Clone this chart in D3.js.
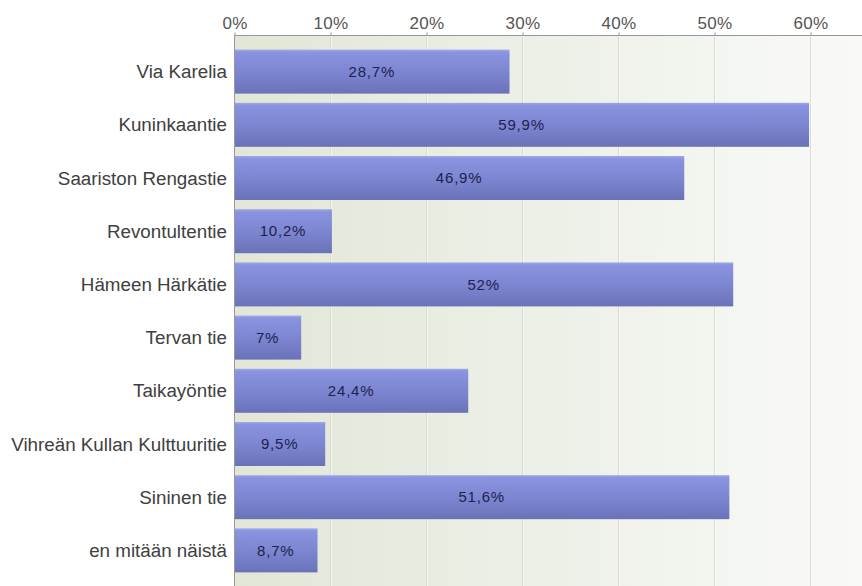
<!DOCTYPE html>
<html><head><meta charset="utf-8">
<script src="https://cdn.jsdelivr.net/npm/d3@7"></script>
<style>body{margin:0;background:#fff;}svg{display:block;}</style>
</head><body>
<svg id="chart" width="862" height="586"></svg>
<script>
const categories = ["Via Karelia","Kuninkaantie","Saariston Rengastie","Revontultentie","Hämeen Härkätie","Tervan tie","Taikayöntie","Vihreän Kullan Kulttuuritie","Sininen tie","en mitään näistä"];
const values = [28.7, 59.9, 46.9, 10.2, 52, 7, 24.4, 9.5, 51.6, 8.7];
const valueLabels = ["28,7%","59,9%","46,9%","10,2%","52%","7%","24,4%","9,5%","51,6%","8,7%"];
const tickValues = [0,10,20,30,40,50,60];

(function(){
const svg = d3.select("#chart");
const pLeft = 234, pRight = 862, pTop = 35, pBottom = 586;
const font = "Liberation Sans, Arial, sans-serif";
const x = d3.scaleLinear().domain([0,60]).range([pLeft, pLeft+576]);
const y = d3.scaleBand().domain(categories).range([36, 586]).paddingInner(0.173).paddingOuter(0.256);

const defs = svg.append("defs");
const bg = defs.append("linearGradient").attr("id","bg").attr("x1","0").attr("x2","1").attr("y1","0").attr("y2","0");
bg.append("stop").attr("offset","0").attr("stop-color","#e2e6d6");
bg.append("stop").attr("offset","0.5").attr("stop-color","#edf0e7");
bg.append("stop").attr("offset","1").attr("stop-color","#f9faf8");
const bar = defs.append("linearGradient").attr("id","bar").attr("x1","0").attr("x2","0").attr("y1","0").attr("y2","1");
bar.append("stop").attr("offset","0").attr("stop-color","#a0a8ea");
bar.append("stop").attr("offset","0.06").attr("stop-color","#8a93df");
bar.append("stop").attr("offset","0.5").attr("stop-color","#7d86d1");
bar.append("stop").attr("offset","1").attr("stop-color","#6a72b8");

svg.append("rect").attr("x",pLeft).attr("y",pTop).attr("width",pRight-pLeft).attr("height",pBottom-pTop).attr("fill","url(#bg)");

svg.append("g").selectAll("line").data(tickValues.slice(1)).join("line")
  .attr("x1",d=>x(d)+0.5).attr("x2",d=>x(d)+0.5).attr("y1",pTop).attr("y2",pBottom)
  .attr("stroke","#d9ddd1").attr("stroke-width",1);
svg.append("g").selectAll("line").data(tickValues.slice(1)).join("line")
  .attr("x1",d=>x(d)+1.5).attr("x2",d=>x(d)+1.5).attr("y1",pTop).attr("y2",pBottom)
  .attr("stroke","#ffffff").attr("stroke-opacity",0.5).attr("stroke-width",1);

const axis = d3.axisTop(x).tickValues(tickValues).tickFormat(d=>d+"%").tickSize(3).tickSizeOuter(0);
const ag = svg.append("g").attr("transform",`translate(0.5,${pTop+0.5})`).call(axis);
ag.select(".domain").attr("stroke","#999").attr("d",`M${pLeft-0.5},0H${pRight}`);
ag.selectAll(".tick line").attr("stroke","#999");
ag.selectAll(".tick text").attr("fill","#555").attr("font-family",font).attr("font-size","17px").attr("letter-spacing","0.3px").attr("dy","0").attr("y",-7);

svg.append("line").attr("x1",pLeft+0.5).attr("x2",pLeft+0.5).attr("y1",pTop).attr("y2",pBottom).attr("stroke","#999");

svg.append("g").selectAll("rect").data(values).join("rect")
  .attr("x",pLeft+1).attr("y",(d,i)=>y(categories[i]))
  .attr("width",d=>x(d)-pLeft-1).attr("height",y.bandwidth())
  .attr("fill","url(#bar)");

svg.append("g").selectAll("text").data(values).join("text")
  .attr("x",d=>(pLeft+x(d))/2).attr("y",(d,i)=>y(categories[i])+y.bandwidth()/2)
  .attr("dy","0.35em").attr("text-anchor","middle")
  .attr("font-family",font).attr("font-size","15px").attr("letter-spacing","0.8px").attr("fill","#1e2150")
  .text((d,i)=>valueLabels[i]);

svg.append("g").selectAll("text").data(categories).join("text")
  .attr("x",227).attr("y",d=>y(d)+y.bandwidth()/2).attr("dy","0.35em").attr("text-anchor","end")
  .attr("font-family",font).attr("font-size","18.8px").attr("fill","#404040")
  .text(d=>d);
})();
</script>
</body></html>
